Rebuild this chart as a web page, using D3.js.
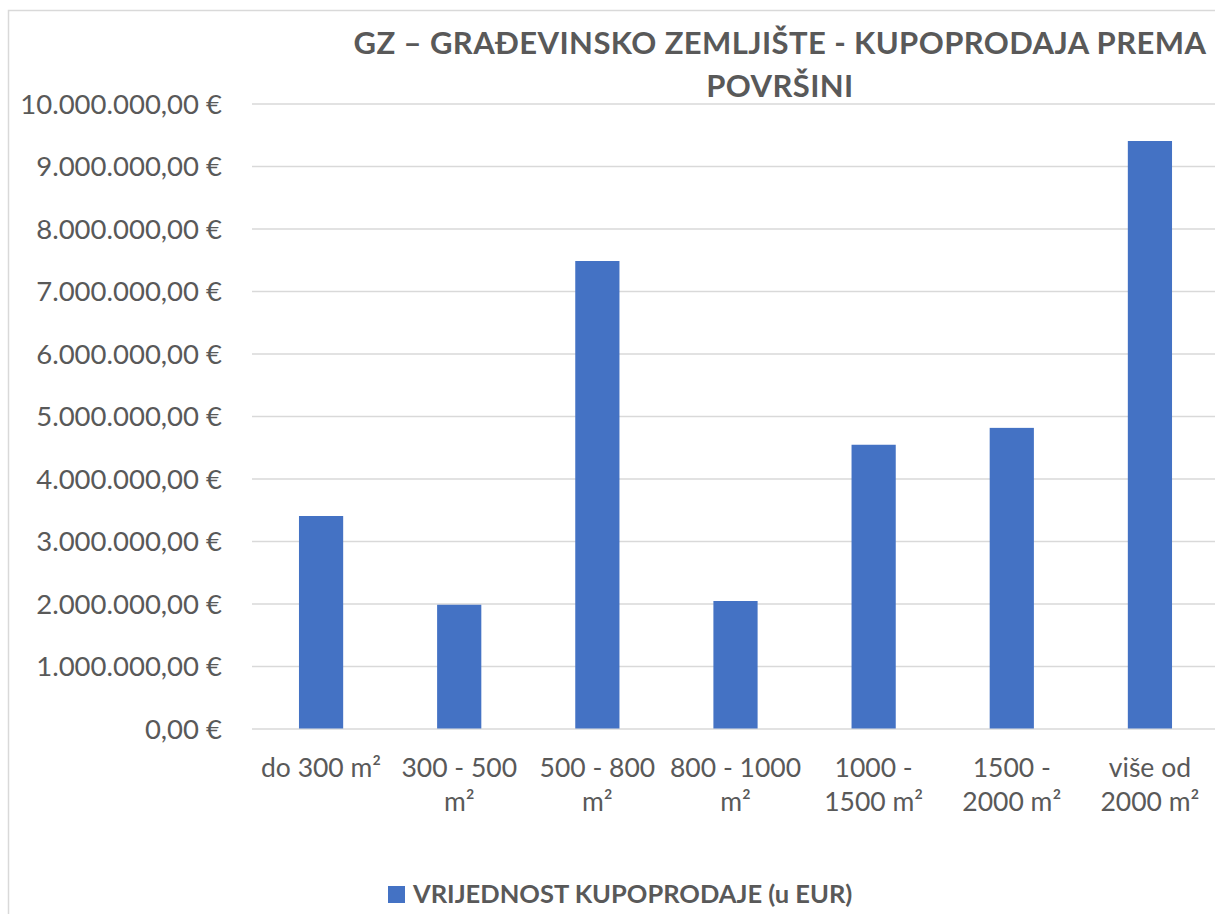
<!DOCTYPE html>
<html>
<head>
<meta charset="utf-8">
<script src="https://cdn.jsdelivr.net/npm/d3@7"></script>
<style>
  body { margin: 0; background: #fff; }
  text { font-family: Lato, "Open Sans", sans-serif; fill: #595959; }
</style>
</head>
<body>
<div id="chart"></div>
<script>
// Podaci
const categories = ["do 300 m²", "300 - 500 m²", "500 - 800 m²", "800 - 1000 m²", "1000 - 1500 m²", "1500 - 2000 m²", "više od 2000 m²"];
const values = [3400000, 1980000, 7480000, 2040000, 4540000, 4810000, 9400000];
const yTicks = [0, 1000000, 2000000, 3000000, 4000000, 5000000, 6000000, 7000000, 8000000, 9000000, 10000000];
const titleLines = ["GZ – GRAĐEVINSKO ZEMLJIŠTE - KUPOPRODAJA PREMA", "POVRŠINI"];
const seriesName = "VRIJEDNOST KUPOPRODAJE (u EUR)";

const width = 1215;
const height = 914;
const plot = {left: 252, right: 1219, top: 103.5, bottom: 728.5};
const barColor = "#4472C4";
const gridColor = "#d9d9d9";

// hrvatski format valute
const locale = d3.formatLocale({decimal: ",", thousands: ".", grouping: [3], currency: ["", " €"]});
const fmt = locale.format("$,.2f");

const svg = d3.select("#chart")
  .append("svg")
  .attr("width", width)
  .attr("height", height);

// okvir grafikona (desni i donji rub su odrezani)
svg.append("path")
  .attr("d", `M8.5,${height} V10.5 H${width}`)
  .attr("fill", "none")
  .attr("stroke", gridColor)
  .attr("stroke-width", 1.5);

const x = d3.scaleBand()
  .domain(categories)
  .range([plot.left, plot.right])
  .paddingInner(0.68)
  .paddingOuter(0.34);

const y = d3.scaleLinear()
  .domain([0, 10000000])
  .range([plot.bottom, plot.top]);

// mreža
svg.append("g")
  .attr("transform", `translate(${plot.left}, 0)`)
  .call(d3.axisLeft(y).tickValues(yTicks).tickSize(-(plot.right - plot.left)).tickFormat(""))
  .call(g => g.select(".domain").remove())
  .call(g => g.selectAll("line").attr("stroke", gridColor).attr("stroke-width", 1.5));

// oznake y osi
svg.append("g")
  .attr("transform", `translate(222, 0)`)
  .call(d3.axisLeft(y).tickValues(yTicks).tickSize(0).tickPadding(0).tickFormat(fmt))
  .call(g => g.select(".domain").remove())
  .call(g => g.selectAll("text")
    .style("font-size", "27.5px")
    .attr("fill", "#595959")
    .attr("dy", "0.35em"));

// stupci
svg.selectAll(".bar")
  .data(values)
  .enter()
  .append("rect")
  .attr("class", "bar")
  .attr("x", (d, i) => x(categories[i]))
  .attr("y", d => y(d))
  .attr("width", x.bandwidth())
  .attr("height", d => y(0) - y(d))
  .attr("fill", barColor);

// x os
const xAxis = svg.append("g")
  .attr("transform", `translate(0, ${plot.bottom})`)
  .call(d3.axisBottom(x).tickSize(0).tickPadding(0));
xAxis.select(".domain").remove();
xAxis.selectAll("text")
  .style("font-size", "26.5px")
  .attr("fill", "#595959")
  .attr("y", 48)
  .attr("dy", 0)
  .each(function() { wrap(d3.select(this), x.step() - 2); });

function wrap(text, maxWidth) {
  const words = text.text().split(" ");
  text.text(null);
  let line = [];
  let tspan = text.append("tspan").attr("x", 0).attr("dy", 0);
  words.forEach(w => {
    line.push(w);
    tspan.text(line.join(" "));
    if (tspan.node().getComputedTextLength() > maxWidth && line.length > 1) {
      line.pop();
      tspan.text(line.join(" "));
      line = [w];
      tspan = text.append("tspan").attr("x", 0).attr("dy", 34).text(w);
    }
  });
}

// naslov
svg.append("text")
  .attr("x", 780)
  .attr("y", 54)
  .attr("text-anchor", "middle")
  .style("font-size", "31px")
  .style("font-weight", "bold")
  .style("letter-spacing", "0.4px")
  .selectAll("tspan")
  .data(titleLines)
  .enter()
  .append("tspan")
  .attr("x", 780)
  .attr("dy", (d, i) => i === 0 ? 0 : 43)
  .text(d => d);

// legenda
const legend = svg.append("g").attr("transform", "translate(388, 886)");
legend.append("rect")
  .attr("width", 17)
  .attr("height", 17)
  .attr("fill", barColor);
legend.append("text")
  .attr("x", 25)
  .attr("y", 17)
  .style("font-size", "25.5px")
  .style("font-weight", "bold")
  .text(seriesName);
</script>
</body>
</html>
